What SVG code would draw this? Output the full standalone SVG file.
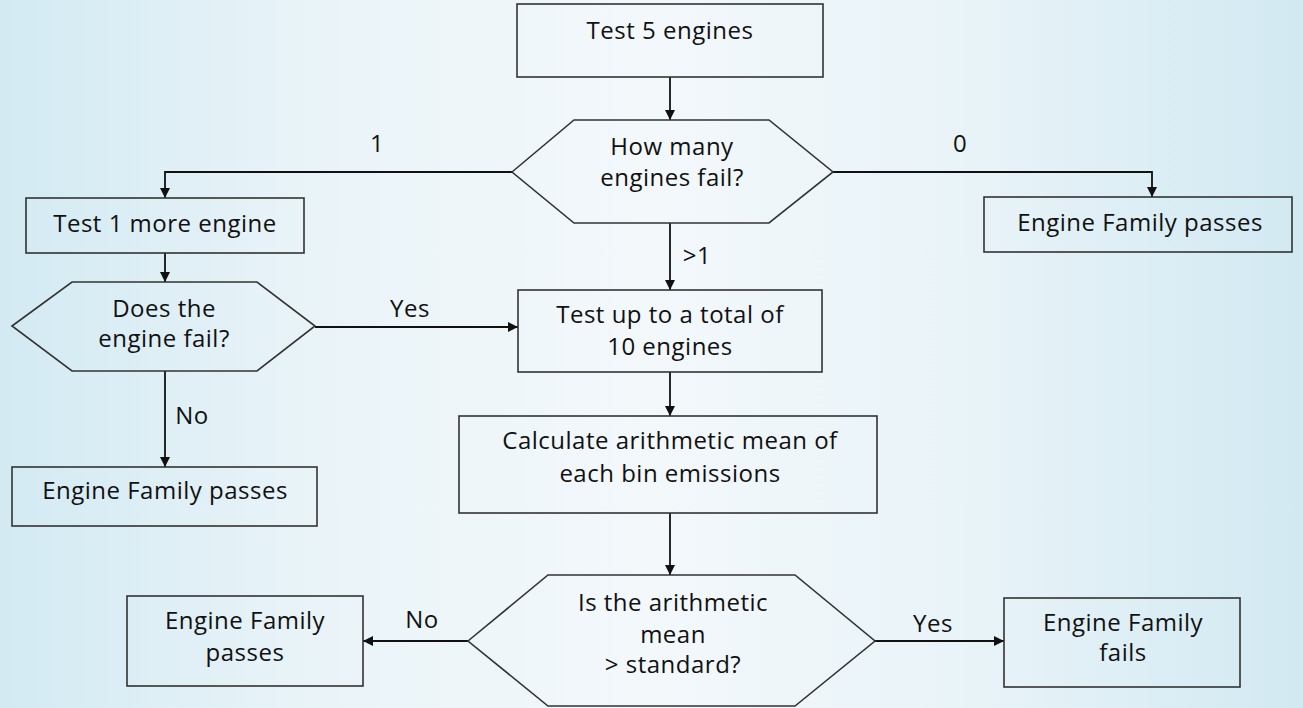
<svg xmlns="http://www.w3.org/2000/svg" width="1303" height="708" viewBox="0 0 1303 708">
  <defs>
    <linearGradient id="bg" x1="0" y1="0" x2="1" y2="0">
      <stop offset="0" stop-color="#d3eaf3"/>
      <stop offset="0.25" stop-color="#eaf4f8"/>
      <stop offset="0.5" stop-color="#f3f8fb"/>
      <stop offset="0.75" stop-color="#e8f3f8"/>
      <stop offset="1" stop-color="#d2e9f2"/>
    </linearGradient>
    <marker id="arr" viewBox="0 0 10 10" refX="10" refY="5" markerWidth="10" markerHeight="10" markerUnits="userSpaceOnUse" orient="auto">
      <path d="M0,0 L10,5 L0,10 Z" fill="#111"/>
    </marker>
    <style>
      .box{fill:none;stroke:#333;stroke-width:1.6}
      .t{font-family:"Open Sans","Noto Sans","Liberation Sans",sans-serif;font-size:24px;font-weight:500;letter-spacing:0.5px;fill:#111;text-anchor:middle}
      .c{fill:none;stroke:#111;stroke-width:1.8}
    </style>
  </defs>
  <rect x="0" y="0" width="1303" height="708" fill="url(#bg)"/>

  <g id="connectors">
    <line class="c" x1="670" y1="77" x2="670" y2="120" marker-end="url(#arr)"/>
    <polyline class="c" points="512,172 165,172 165,198" marker-end="url(#arr)"/>
    <polyline class="c" points="833,172 1152,172 1152,197" marker-end="url(#arr)"/>
    <line class="c" x1="670" y1="223" x2="670" y2="290" marker-end="url(#arr)"/>
    <line class="c" x1="165" y1="253" x2="165" y2="282" marker-end="url(#arr)"/>
    <line class="c" x1="315" y1="327" x2="518" y2="327" marker-end="url(#arr)"/>
    <line class="c" x1="165" y1="371" x2="165" y2="467" marker-end="url(#arr)"/>
    <line class="c" x1="670" y1="372" x2="670" y2="416" marker-end="url(#arr)"/>
    <line class="c" x1="670" y1="513" x2="670" y2="575" marker-end="url(#arr)"/>
    <line class="c" x1="468" y1="641" x2="363" y2="641" marker-end="url(#arr)"/>
    <line class="c" x1="875" y1="641" x2="1004" y2="641" marker-end="url(#arr)"/>
    <text class="t" x="377" y="152">1</text>
    <text class="t" x="960" y="152">0</text>
    <text class="t" x="697" y="264">&gt;1</text>
    <text class="t" x="410" y="317">Yes</text>
    <text class="t" x="192" y="424">No</text>
    <text class="t" x="422" y="628">No</text>
    <text class="t" x="933" y="632">Yes</text>
  </g>

  <g id="test5">
    <rect class="box" x="517" y="4" width="306" height="73"/>
    <text class="t" x="670" y="39">Test 5 engines</text>
  </g>
  <g id="howmany">
    <polygon class="box" points="512,172 574,120 769,120 833,172 769,223 574,223"/>
    <text class="t" x="672" y="155">How many</text>
    <text class="t" x="672" y="186">engines fail?</text>
  </g>
  <g id="test1more">
    <rect class="box" x="26" y="198" width="278" height="55"/>
    <text class="t" x="165" y="232">Test 1 more engine</text>
  </g>
  <g id="passes-right">
    <rect class="box" x="984" y="197" width="308" height="55"/>
    <text class="t" x="1140" y="231">Engine Family passes</text>
  </g>
  <g id="doesfail">
    <polygon class="box" points="12,326 72,282 257,282 315,326 257,371 72,371"/>
    <text class="t" x="164" y="317">Does the</text>
    <text class="t" x="164" y="347">engine fail?</text>
  </g>
  <g id="passes-left">
    <rect class="box" x="12" y="467" width="305" height="59"/>
    <text class="t" x="165" y="499">Engine Family passes</text>
  </g>
  <g id="testupto10">
    <rect class="box" x="518" y="290" width="304" height="82"/>
    <text class="t" x="670" y="323">Test up to a total of</text>
    <text class="t" x="670" y="355">10 engines</text>
  </g>
  <g id="calculate">
    <rect class="box" x="459" y="416" width="418" height="97"/>
    <text class="t" x="670" y="449">Calculate arithmetic mean of</text>
    <text class="t" x="670" y="482">each bin emissions</text>
  </g>
  <g id="ismean">
    <polygon class="box" points="468,641 548,575 795,575 875,641 795,706 548,706"/>
    <text class="t" x="673" y="611">Is the arithmetic</text>
    <text class="t" x="673" y="643">mean</text>
    <text class="t" x="673" y="673">&gt; standard?</text>
  </g>
  <g id="passes-bottom">
    <rect class="box" x="127" y="596" width="236" height="90"/>
    <text class="t" x="245" y="629">Engine Family</text>
    <text class="t" x="245" y="661">passes</text>
  </g>
  <g id="fails">
    <rect class="box" x="1004" y="598" width="236" height="89"/>
    <text class="t" x="1123" y="631">Engine Family</text>
    <text class="t" x="1123" y="661">fails</text>
  </g>
</svg>
